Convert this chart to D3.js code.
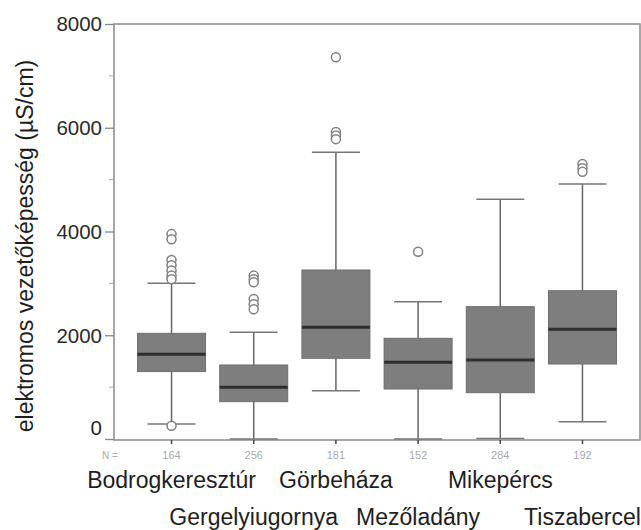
<!DOCTYPE html>
<html>
<head>
<meta charset="utf-8">
<script src="https://cdn.jsdelivr.net/npm/d3@7"></script>
<style>
  body { margin: 0; background: #fff; }
  svg { display: block; font-family: "Liberation Sans", Arial, sans-serif; }
</style>
</head>
<body>
<div class="boxplot"></div>
<script>
// values
var categories = ["Bodrogkeresztúr", "Gergelyiugornya", "Görbeháza", "Mezőladány", "Mikepércs", "Tiszabercel"];
var counts = [164, 256, 181, 152, 284, 192];
var whiskerLow = [289, 0, 931, 0, 10, 334];
var q1 = [1300, 720, 1556, 964, 893, 1446];
var medians = [1633, 996, 2153, 1478, 1523, 2114];
var q3 = [2037, 1427, 3258, 1941, 2551, 2859];
var whiskerHigh = [3001, 2057, 5527, 2647, 4620, 4916];
var outliers = [
    [3950, 3850, 3450, 3350, 3250, 3150, 3080, 256],
    [3150, 3080, 3020, 2700, 2600, 2500],
    [7358, 5920, 5850, 5780],
    [3611],
    [],
    [5300, 5220, 5150]
];
var yTicks = [0, 2000, 4000, 6000, 8000];
var yMinorTicks = [1000, 3000, 5000, 7000];
var yLabel = "elektromos vezetőképesség (µS/cm)";

function chart() {
    var width = 641, height = 530;
    var left = 114, right = 640, top = 24;

    var x = d3.scalePoint()
                .domain(categories)
                .range([left, right])
                .padding(0.7);

    var y = d3.scaleLinear()
                .domain([0, 8000])
                .range([439, top]);

    var bottom = y(0) + 1;
    var boxW = 68, capW = 48;

    var svg = d3.select(".boxplot").append("svg")
            .attr("width", width)
            .attr("height", height);

    // frame
    svg.append("rect")
            .attr("x", left)
            .attr("y", top)
            .attr("width", right - left)
            .attr("height", bottom - top)
            .attr("fill", "none")
            .attr("stroke", "#8a8a8a")
            .attr("stroke-width", 1.5);

    // y axis
    var yAxis = d3.axisLeft(y)
                .tickValues(yTicks)
                .tickSize(9)
                .tickPadding(3)
                .tickFormat(d3.format("d"));

    var gy = svg.append("g")
            .attr("transform", "translate(" + left + ",0)")
            .call(yAxis);
    gy.select(".domain").remove();
    gy.selectAll(".tick line").attr("stroke", "#888").attr("stroke-width", 1.3);
    gy.selectAll(".tick text")
            .attr("font-size", 20.5)
            .attr("fill", "#2a2a2a")
            .attr("dy", function (d) { return d === 0 ? "-0.2em" : "0.34em"; });

    svg.append("g").selectAll("line")
            .data(yMinorTicks)
            .enter().append("line")
            .attr("x1", left - 5).attr("x2", left)
            .attr("y1", function (d) { return y(d); })
            .attr("y2", function (d) { return y(d); })
            .attr("stroke", "#aaa");

    svg.append("text")
            .attr("transform", "translate(33,246) rotate(-90)")
            .attr("text-anchor", "middle")
            .attr("font-size", 23)
            .attr("fill", "#1e1e1e")
            .text(yLabel);

    // category ticks under the axis
    svg.append("g").selectAll("line")
            .data(categories)
            .enter().append("line")
            .attr("x1", function (d) { return x(d); })
            .attr("x2", function (d) { return x(d); })
            .attr("y1", bottom).attr("y2", bottom + 4)
            .attr("stroke", "#444")
            .attr("stroke-width", 1.5);

    var g = svg.append("g").selectAll("g")
            .data(categories)
            .enter().append("g");

    // whiskers
    g.append("line")
            .attr("x1", function (d) { return x(d); })
            .attr("x2", function (d) { return x(d); })
            .attr("y1", function (d, i) { return y(whiskerLow[i]); })
            .attr("y2", function (d, i) { return y(whiskerHigh[i]); })
            .attr("stroke", "#666")
            .attr("stroke-width", 1.5);

    [whiskerLow, whiskerHigh].forEach(function (arr) {
        g.append("line")
                .attr("x1", function (d) { return x(d) - capW / 2; })
                .attr("x2", function (d) { return x(d) + capW / 2; })
                .attr("y1", function (d, i) { return y(arr[i]); })
                .attr("y2", function (d, i) { return y(arr[i]); })
                .attr("stroke", "#777")
                .attr("stroke-width", 1.5);
    });

    // boxes
    g.append("rect")
            .attr("x", function (d) { return x(d) - boxW / 2; })
            .attr("y", function (d, i) { return y(q3[i]); })
            .attr("width", boxW)
            .attr("height", function (d, i) { return y(q1[i]) - y(q3[i]); })
            .attr("fill", "#7e7e7e")
            .attr("stroke", "#6e6e6e")
            .attr("stroke-width", 1);

    g.append("line")
            .attr("x1", function (d) { return x(d) - boxW / 2; })
            .attr("x2", function (d) { return x(d) + boxW / 2; })
            .attr("y1", function (d, i) { return y(medians[i]); })
            .attr("y2", function (d, i) { return y(medians[i]); })
            .attr("stroke", "#2e2e2e")
            .attr("stroke-width", 3);

    // outliers
    g.each(function (d, i) {
        d3.select(this).selectAll("circle")
                .data(outliers[i])
                .enter().append("circle")
                .attr("cx", x(d))
                .attr("cy", function (v) { return y(v); })
                .attr("r", 4.5)
                .attr("fill", "#fff")
                .attr("stroke", "#808080")
                .attr("stroke-width", 1.5);
    });

    // N row
    svg.append("text")
            .attr("x", 110).attr("y", 459)
            .attr("text-anchor", "middle")
            .attr("font-size", 10)
            .attr("fill", "#aaa")
            .text("N =");

    svg.append("g").selectAll("text")
            .data(categories)
            .enter().append("text")
            .attr("x", function (d) { return x(d); })
            .attr("y", 459)
            .attr("text-anchor", "middle")
            .attr("font-size", 11)
            .attr("fill", "#aaa")
            .text(function (d, i) { return counts[i]; });

    // category labels in two rows
    svg.append("g").selectAll("text")
            .data(categories)
            .enter().append("text")
            .attr("x", function (d) { return x(d); })
            .attr("y", function (d, i) { return i % 2 === 0 ? 488 : 525; })
            .attr("text-anchor", "middle")
            .attr("font-size", 23)
            .attr("fill", "#1e1e1e")
            .text(function (d) { return d; });
}

chart();
</script>
</body>
</html>
